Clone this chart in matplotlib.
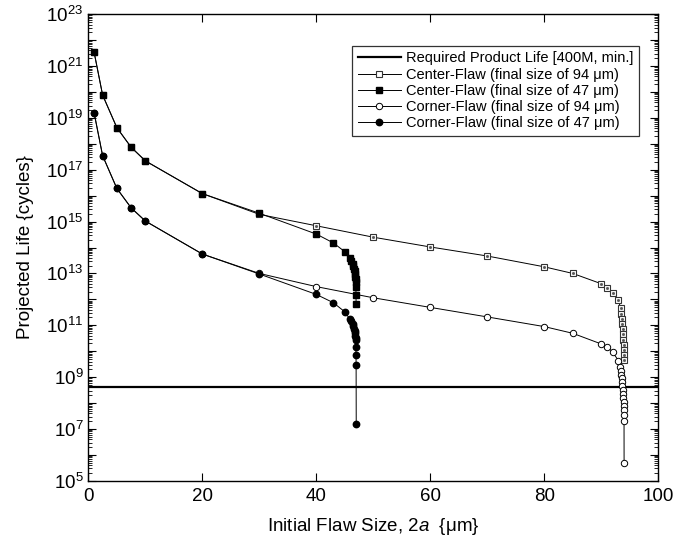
import numpy as np
import matplotlib
matplotlib.use("Agg")
import matplotlib.pyplot as plt
from matplotlib.ticker import LogLocator, FixedLocator, FuncFormatter, NullFormatter

plt.rcParams['font.family'] = ['Liberation Sans', 'DejaVu Sans']
plt.rcParams['mathtext.fontset'] = 'custom'
plt.rcParams['mathtext.rm'] = 'Liberation Sans'
plt.rcParams['mathtext.it'] = 'Liberation Sans:italic'

# required life line
required_life = 4e8

# center flaw, final size 94 um (open squares)
c94_x = [1, 2.5, 5, 7.5, 10, 20, 30, 40, 50, 60, 70, 80, 85, 90, 91, 92, 93,
         93.4, 93.5, 93.6, 93.7, 93.75, 93.8, 93.85, 93.9, 93.93, 93.96, 93.98]
c94_y = [3.5e21, 7.6e19, 4.2e18, 7.4e17, 2.2e17, 1.2e16, 1.9e15, 6.9e14, 2.5e14,
         1.05e14, 4.7e13, 1.8e13, 1.0e13, 4.0e12, 2.8e12, 1.8e12, 9.3e11,
         4.5e11, 2.8e11, 1.8e11, 1.1e11, 7.1e10, 4.5e10, 2.8e10, 1.8e10, 1.1e10,
         7.1e9, 4.5e9]

# center flaw, final size 47 um (filled squares)
c47_x = [1, 2.5, 5, 7.5, 10, 20, 30, 40, 43, 45,
         45.9, 46.15, 46.35, 46.5, 46.6, 46.7, 46.78, 46.84, 46.89, 46.92,
         46.94, 46.96, 46.98]
c47_y = [3.5e21, 7.6e19, 4.2e18, 7.4e17, 2.2e17, 1.2e16, 2.1e15, 3.3e14, 1.5e14,
         6.9e13, 3.8e13, 3.0e13, 2.3e13, 1.9e13, 1.5e13, 1.2e13, 9.3e12, 7.4e12,
         5.9e12, 4.8e12, 3.1e12, 1.5e12, 6.6e11]

# corner flaw, final size 94 um (open circles)
k94_x = [1, 2.5, 5, 7.5, 10, 20, 30, 40, 50, 60, 70, 80, 85, 90, 91, 92, 93,
         93.3, 93.4, 93.5, 93.6, 93.65, 93.7, 93.75, 93.8, 93.85, 93.9, 93.93,
         93.95, 93.97, 93.99, 94.0]
k94_y = [1.6e19, 3.5e17, 1.9e16, 3.4e15, 1.05e15, 5.6e13, 1.0e13, 3.1e12,
         1.15e12, 4.9e11, 2.1e11, 8.9e10, 4.9e10, 1.9e10, 1.5e10, 9.3e9, 4.3e9,
         2.5e9, 1.8e9, 1.26e9, 8.9e8, 6.3e8, 4.5e8, 3.2e8, 2.2e8, 1.6e8, 1.1e8,
         7.9e7, 5.6e7, 3.5e7, 2.0e7, 4.8e5]

# corner flaw, final size 47 um (filled circles)
k47_x = [1, 2.5, 5, 7.5, 10, 20, 30, 40, 43, 45,
         45.9, 46.15, 46.35, 46.5, 46.6, 46.7, 46.78, 46.84, 46.89, 46.92,
         46.94, 46.96, 46.98, 47.0]
k47_y = [1.6e19, 3.5e17, 1.9e16, 3.4e15, 1.05e15, 5.6e13, 9.5e12, 1.55e12,
         7.4e11, 3.3e11, 1.7e11, 1.4e11, 1.1e11, 9.1e10, 7.4e10, 6.0e10, 4.9e10,
         4.0e10, 3.2e10, 2.7e10, 1.5e10, 7.1e9, 3.0e9, 1.5e7]

fig = plt.figure(figsize=(6.85, 5.47), dpi=100)
ax = fig.add_axes([0.129, 0.121, 0.832, 0.853])

lw = 0.7
ax.axhline(required_life, color='black', lw=1.6, label='Required Product Life [400M, min.]')
ax.plot(c94_x, c94_y, '-', color='black', lw=lw, marker='s', ms=3.8,
        mfc='white', mec='#333333', mew=0.8,
        label='Center-Flaw (final size of 94 \u03bcm)')
ax.plot(c94_x, c94_y, 's', color='#555555', ms=1.0, ls='none')
ax.plot(c47_x, c47_y, '-', color='black', lw=lw, marker='s', ms=4.6,
        mfc='black', mec='black', label='Center-Flaw (final size of 47 \u03bcm)')
ax.plot(k94_x, k94_y, '-', color='black', lw=lw, marker='o', ms=4.6,
        mfc='white', mec='black', mew=0.7,
        label='Corner-Flaw (final size of 94 \u03bcm)')
ax.plot(k47_x, k47_y, '-', color='black', lw=lw, marker='o', ms=4.6,
        mfc='black', mec='black', label='Corner-Flaw (final size of 47 \u03bcm)')

ax.set_yscale('log')
ax.set_xlim(0, 100)
ax.set_ylim(1e5, 1e23)
ax.set_xticks([0, 20, 40, 60, 80, 100])
ax.yaxis.set_major_locator(FixedLocator([10.0 ** e for e in range(5, 24)]))
ax.yaxis.set_minor_locator(LogLocator(base=10, subs=np.arange(2, 10), numticks=40))
ax.yaxis.set_minor_formatter(NullFormatter())


def ylab(v, pos):
    e = int(round(np.log10(v)))
    return r'$10^{%d}$' % e if e % 2 == 1 else ''


ax.yaxis.set_major_formatter(FuncFormatter(ylab))
ax.tick_params(which='both', direction='in', top=True, right=True, labelsize=13.5)
ax.tick_params(which='major', length=6, width=0.8)
ax.tick_params(which='minor', length=3, width=0.6)
ax.tick_params(axis='x', pad=5)
for s in ax.spines.values():
    s.set_linewidth(1.0)

ax.set_xlabel('Initial Flaw Size, 2$a$  {\u03bcm}', fontsize=13.5, labelpad=8)
ax.set_ylabel('Projected Life {cycles}', fontsize=13.5, labelpad=9)

leg = ax.legend(loc='lower left', bbox_to_anchor=(0.462, 0.739), borderaxespad=0,
                fontsize=10.5, handlelength=3.0, handletextpad=0.3,
                labelspacing=0.15, borderpad=0.4, fancybox=False, frameon=True)
leg.get_frame().set_edgecolor('black')
leg.get_frame().set_linewidth(0.9)

fig.savefig('out.png', dpi=100)
